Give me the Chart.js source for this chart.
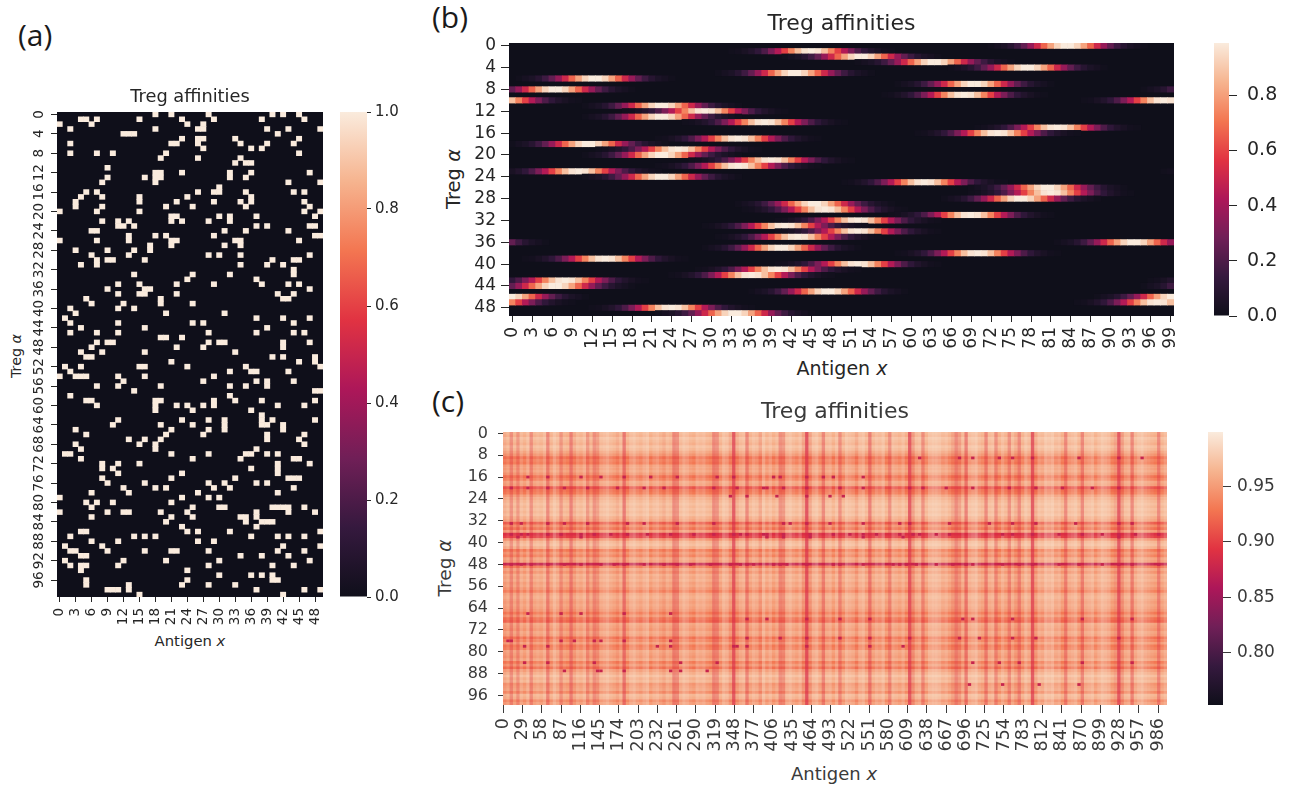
<!DOCTYPE html>
<html lang="en">
<head>
<meta charset="UTF-8">
<title>Treg affinities</title>
<script src="https://cdn.jsdelivr.net/npm/chart.js"></script>
<style>
  html, body { margin: 0; background: #fff; }
  #fig { position: relative; width: 1295px; height: 787px; overflow: hidden; }
  canvas { position: absolute; filter: blur(0.4px); }
  .lab { position: absolute; font-family: "DejaVu Sans"; color: #262626; white-space: nowrap; transform: translate(-50%, -50%); }
  .rot { transform: translate(-50%, -50%) rotate(-90deg); }
  .letter { position: absolute; font-family: "Open Sans"; font-size: 30px; color: #1a1a1a; }
</style>
</head>
<body>
<div id="fig">
  <div class="letter" style="left:18px;top:14px">(a)</div>
  <div class="letter" style="left:432px;top:-4px">(b)</div>
  <div class="letter" style="left:432px;top:380px">(c)</div>
  <div class="lab" style="left:190px;top:640px;font-size:14.8px">Antigen <i>x</i></div>
  <div class="lab rot" style="left:16px;top:356px;font-size:14.3px">Treg <i>α</i></div>
  <div class="lab" style="left:842px;top:368px;font-size:19px">Antigen <i>x</i></div>
  <div class="lab rot" style="left:453px;top:179px;font-size:19.5px">Treg <i>α</i></div>
  <div class="lab" style="left:834px;top:773px;font-size:18px;color:#3a3a3a">Antigen <i>x</i></div>
  <div class="lab rot" style="left:444px;top:568px;font-size:18.5px;color:#3a3a3a">Treg <i>α</i></div>
</div>

<script>
// rocket colormap stops, with the dark end as it looks in the picture
const rocketStops = ['#0f0f1a', '#35193e', '#701f57', '#ad1759', '#e13342', '#f37651', '#f6b48f', '#faebdd'];
const title = 'Treg affinities';

// panel (a): columns of the bright cells, one list per row
const aBrightCols = [
  [18,21,28,40,42,45],[4,5,7,15,23,29,38,46],[0,6,24,27],[2,18,26,27,39,43,49],[12,13,14,41],
  [23,26,27,33,45],[2,21,22,26,34,39,44],[27,36,38],[2,7,10,20,45],[19,26,34],
  [33,35,36],[9],[18,19,23,32,36,47],[9,16,18,19,32,35],[8,18,43,49],
  [30],[5,7,26,29,30,35,44,46],[4,8,15,24,36],[3,15,22,29,34,36,46],[3,8,20,25,35,47],
  [0,7,15,46,49],[21,22,30,32,37,48],[8,11,13,21,23,28,32],[11,12,14,37,39,47,48],[6,7,31,35,43],
  [13,18,20,29,48,49],[0,7,13,21,22,33,34,45],[17,21,31,34],[3,9,14,17],[6,13,28,30,34,47],
  [7,9,10,16,40,44,45],[4,7,34,39,42],[44],[14,25,32,44],[24,37],
  [11,15,22,29,38,43,45],[9,16,17,47],[11,15,16,22,41,44],[5,19,42,43],[6,12,19,25],
  [2,11,14],[3,20,31],[1,37,42,47],[2,11,25,27,44],[4,16,39],
  [2,7,11,28,37,44,46],[19,20,23],[7,9,10,28,30,31,42,47],[6,22,27,42],[4,8,16,33],
  [5,6,40,42,48],[21,45,48],[1,4,15,16,24,35,49],[2,32,36,37,43],[0,3,4,5,11,16,29],
  [12,27,37,39,44],[7,11,19,32,35,39],[14,48,49],[2,32],[5,6,18,19,29,33,38,48],
  [7,18,22,24,27,29,41,46],[18,25,36],[38],[11,23,28,31,38,40,48],[10,19,25,31,38,39,42],
  [3,21,28,31,42],[5,20,27,39,46],[13,16,19,39,45],[3,15,18,46],[4,18,37],
  [1,2,21,28,35,36,39,41],[4,25,34,44,45],[8,11,15,41,47],[8,10,36,41],[11,23,41],
  [8,21,33,43,44,45],[9,16,28,31,37,39],[12,18,20,29,32,44],[6,13,26,41],[0,23,28,30],
  [5,7,10,21],[6,25,30,31,40,41,42,43,46],[0,9,12,13,19,24,37,43,48],[6,21,25,34,35,37],[20,35,38,39,40],
  [23,37],[4,5,24,26,32,49],[2,14,16,18,36,41,43,46],[6,11,26,29],[1,8,42,49],
  [2,3,9,16,21,22,28,41,46],[4,5,34,38,43],[1,12,20,30,47],[2,4,5,11,28,40,44],[4,24],
  [30,36,38,40],[5,24,40,41],[5,13,23,28,33],[9,10,11,13,37,46,49],[15,42]
];
const aXTicks = [0,3,6,9,12,15,18,21,24,27,30,33,36,39,42,45,48];
const aYTicks = [0,4,8,12,16,20,24,28,32,36,40,44,48,52,56,60,64,68,72,76,80,84,88,92,96];
const aBarTicks = [0,0.2,0.4,0.6,0.8,1];

// panel (b): first column of each row's streak, then its values in hundredths
const bStarts = [72,33,41,52,66,31,1,58,95,56,86,11,17,11,26,70,61,22,0,13,11,27,22,98,11,50,69,69,65,34,35,57,40,29,40,31,82,29,58,2,40,28,24,96,95,36,88,85,12,22];
const bValues = [
  [1,3,5,9,16,25,37,51,67,81,93,99,99,93,81,67,51,37,25,16,9,5,3,1],
  [1,2,4,7,12,20,31,44,59,74,88,97,100,97,88,74,59,44,31,20,12,7,4,2,1],
  [1,3,5,9,16,25,37,51,67,81,93,99,99,93,81,67,51,37,25,16,9,5,3,1],
  [1,3,5,9,16,25,37,51,67,81,93,99,99,93,81,67,51,37,25,16,9,5,3,1],
  [1,3,5,9,16,25,37,51,67,81,93,99,99,93,81,67,51,37,25,16,9,5,3,1],
  [1,3,5,9,16,25,37,51,67,81,93,99,99,93,81,67,51,37,25,16,9,5,3,1],
  [1,3,5,9,16,25,37,51,67,81,93,99,99,93,81,67,51,37,25,16,9,5,3,1],
  [1,3,5,9,16,25,37,51,67,81,93,99,99,93,81,67,51,37,25,16,9,5,3,1],
  [1,3,5,9,16,25,37,51,67,81,93,99,99,93,81,67,51,37,25,16,9,5,3,1],
  [1,2,4,7,12,20,31,44,59,74,88,97,100,97,88,74,59,44,31,20,12,7,4,2,1],
  [1,2,4,7,12,20,31,44,59,74,88,97,100,97,88,74,59,44,31,20,12,7,4,2,1],
  [1,3,5,9,16,25,37,51,67,81,93,99,99,93,81,67,51,37,25,16,9,5,3,1],
  [1,2,4,7,12,20,31,44,59,74,88,97,100,97,88,74,59,44,31,20,12,7,4,2,1],
  [1,3,5,9,16,25,37,51,67,81,93,99,99,93,81,67,51,37,25,16,9,5,3,1],
  [1,2,4,7,12,20,31,44,59,74,88,97,100,97,88,74,59,44,31,20,12,7,4,2,1],
  [1,2,4,7,12,20,31,44,59,74,88,97,100,97,88,74,59,44,31,20,12,7,4,2,1],
  [1,2,4,7,12,20,31,44,59,74,88,97,100,97,88,74,59,44,31,20,12,7,4,2,1],
  [1,2,4,7,12,20,31,44,59,74,88,97,100,97,88,74,59,44,31,20,12,7,4,2,1],
  [1,3,5,9,16,25,37,51,67,81,93,99,99,93,81,67,51,37,25,16,9,5,3,1],
  [1,2,4,7,12,20,31,44,59,74,88,97,100,97,88,74,59,44,31,20,12,7,4,2,1],
  [1,3,5,9,16,25,37,51,67,81,93,99,99,93,81,67,51,37,25,16,9,5,3,1],
  [1,2,4,7,12,20,31,44,59,74,88,97,100,97,88,74,59,44,31,20,12,7,4,2,1],
  [1,2,4,7,12,20,31,44,59,74,88,97,100,97,88,74,59,44,31,20,12,7,4,2,1],
  [1,2,4,7,12,20,31,44,59,74,88,97,100,97,88,74,59,44,31,20,12,7,4,2,1],
  [1,3,5,9,16,25,37,51,67,81,93,99,99,93,81,67,51,37,25,16,9,5,3,1],
  [1,2,4,7,12,20,31,44,59,74,88,97,100,97,88,74,59,44,31,20,12,7,4,2,1],
  [1,3,5,9,16,25,37,51,67,81,93,99,99,93,81,67,51,37,25,16,9,5,3,1],
  [1,2,4,7,12,20,31,44,59,74,88,97,100,97,88,74,59,44,31,20,12,7,4,2,1],
  [1,3,5,9,16,25,37,51,67,81,93,99,99,93,81,67,51,37,25,16,9,5,3,1],
  [1,3,5,9,16,25,37,51,67,81,93,99,99,93,81,67,51,37,25,16,9,5,3,1],
  [1,2,4,7,12,20,31,44,59,74,88,97,100,97,88,74,59,44,31,20,12,7,4,2,1],
  [1,2,4,7,12,20,31,44,59,74,88,97,100,97,88,74,59,44,31,20,12,7,4,2,1],
  [1,2,4,7,12,20,31,44,59,74,88,97,100,97,88,74,59,44,31,20,12,7,4,2,1],
  [1,2,4,7,12,20,31,44,59,74,88,97,100,97,88,74,59,44,31,20,12,7,4,2,1],
  [1,2,4,7,12,20,31,44,59,74,88,97,100,97,88,74,59,44,31,20,12,7,4,2,1],
  [1,2,4,7,12,20,31,44,59,74,88,97,100,97,88,74,59,44,31,20,12,7,4,2,1],
  [1,3,5,9,16,25,37,51,67,81,93,99,99,93,81,67,51,37,25,16,9,5,3,1],
  [1,3,5,9,16,25,37,51,67,81,93,99,99,93,81,67,51,37,25,16,9,5,3,1],
  [1,2,4,7,12,20,31,44,59,74,88,97,100,97,88,74,59,44,31,20,12,7,4,2,1],
  [1,2,4,7,12,20,31,44,59,74,88,97,100,97,88,74,59,44,31,20,12,7,4,2,1],
  [1,2,4,7,12,20,31,44,59,74,88,97,100,97,88,74,59,44,31,20,12,7,4,2,1],
  [1,2,4,7,12,20,31,44,59,74,88,97,100,97,88,74,59,44,31,20,12,7,4,2,1],
  [1,2,4,7,12,20,31,44,59,74,88,97,100,97,88,74,59,44,31,20,12,7,4,2,1],
  [1,2,4,7,12,20,31,44,59,74,88,97,100,97,88,74,59,44,31,20,12,7,4,2,1],
  [1,3,5,9,16,25,37,51,67,81,93,99,99,93,81,67,51,37,25,16,9,5,3,1],
  [1,3,5,9,16,25,37,51,67,81,93,99,99,93,81,67,51,37,25,16,9,5,3,1],
  [1,3,5,9,16,25,37,51,67,81,93,99,99,93,81,67,51,37,25,16,9,5,3,1],
  [1,2,4,7,12,20,31,44,59,74,88,97,100,97,88,74,59,44,31,20,12,7,4,2,1],
  [1,2,4,7,12,20,31,44,59,74,88,97,100,97,88,74,59,44,31,20,12,7,4,2,1],
  [1,3,5,9,16,25,37,51,67,81,93,99,99,93,81,67,51,37,25,16,9,5,3,1]
];
const bXTicks = [0,3,6,9,12,15,18,21,24,27,30,33,36,39,42,45,48,51,54,57,60,63,66,69,72,75,78,81,84,87,90,93,96,99];
const bYTicks = [0,4,8,12,16,20,24,28,32,36,40,44,48];
const bBarTicks = [0,0.2,0.4,0.6,0.8];

// panel (c): too fine to read cell by cell, so row levels and column levels (5 columns each) estimated by eye
const cRowLevels = [
  .965,.96,.97,.965,.96,.97,.965,.955,.945,.925,
  .935,.93,.95,.95,.955,.945,.925,.935,.955,.95,
  .91,.925,.93,.95,.96,.965,.97,.965,.97,.965,
  .97,.96,.955,.915,.94,.925,.95,.89,.9,.945,
  .965,.97,.96,.93,.945,.935,.955,.95,.875,.93,
  .955,.945,.96,.955,.96,.95,.955,.945,.935,.955,
  .96,.955,.95,.955,.95,.945,.93,.945,.925,.92,
  .955,.95,.945,.955,.95,.925,.935,.95,.93,.935,
  .955,.95,.945,.955,.93,.945,.925,.95,.96,.97,
  .96,.965,.945,.95,.955,.94,.965,.96,.94,.95
];
const cColLevels = [
  .95,.96,.93,.96,.935,.965,.955,.97,.93,.96,
  .965,.96,.97,.925,.96,.975,.965,.935,.96,.955,
  .92,.95,.965,.96,.97,.935,.96,.93,.94,.965,
  .97,.975,.965,.96,.95,.965,.915,.955,.97,.975,
  .965,.96,.97,.975,.955,.965,.97,.96,.95,.965,
  .96,.925,.93,.965,.975,.97,.96,.955,.97,.965,
  .97,.96,.955,.925,.93,.96,.975,.97,.95,.895,
  .95,.965,.97,.925,.96,.97,.965,.945,.975,.96,
  .97,.955,.965,.93,.935,.97,.975,.965,.96,.97,
  .945,.89,.945,.97,.975,.96,.925,.965,.97,.955,
  .97,.93,.96,.975,.97,.965,.95,.97,.975,.96,
  .92,.96,.97,.965,.975,.955,.93,.97,.965,.96,
  .97,.955,.895,.94,.965,.97,.93,.96,.975,.98,
  .98,.975,.965,.97,.96,.945,.925,.94,.965,.92,
  .97,.975,.98,.965,.96,.925,.965,.97,.93,.955,
  .97,.96,.93,.965,.95,.925,.96,.975,.965,.895,
  .95,.97,.965,.98,.975,.98,.965,.97,.955,.925,
  .965,.97,.975,.96,.925,.965,.97,.975,.96,.97,
  .98,.975,.97,.955,.945,.895,.94,.965,.97,.925,
  .965,.975,.98,.97,.965,.96,.955,.925,.96,.97
];
// darkest specks that could be picked out in the picture: rows, and the 5-column blocks on each
const cSpotRows = [9,16,20,23,33,37,38,48,66,68,75,76,78,84,87,92];
const cSpotBlocks = [
  [125,137,141,149,153,159,173,185,192],
  [7,13,23,29,36,44,52,64,69,81,83,91,96,99,108],
  [2,7,13,18,25,34,42,48,63,70,78,79,84,91,101,108,122,126,133,141,152,160,168,177,185],
  [68,73,82,91,98,102],
  [2,5,13,18,25,37,42,52,63,84,86,91,98,108,119,122,134,146,153,160,172,185,189],
  [2,5,7,13,17,23,27,32,37,43,50,57,63,69,71,73,78,79,84,92,99,104,108,112,119,123,125,130,134,150,153,159,167,174,180,185,190,197],
  [4,23,79,84,92,108,120,185],
  [2,5,8,13,18,23,29,33,36,42,48,52,56,62,68,71,73,75,81,83,85,91,99,101,108,117,119,121,124,130,135,139,141,150,155,159,167,173,180,185,189,197],
  [7,17,23,36,50],
  [73,79,91,101,110,138,141,153,174,189],
  [73,83,91,101,110,122,137,143,153,160,185],
  [1,2,17,21,27,29,36,50],
  [6,13,46,50,69,70,73,91,110,120],
  [6,13,27,53,64,141,149,155,174,189],
  [18,28,29,36,50,53,61],
  [140,150,161,173]
];
const cSpotLevel = 0.875;
const cXTicks = [0,29,58,87,116,145,174,203,232,261,290,319,348,377,406,435,464,493,522,551,580,609,638,667,696,725,754,783,812,841,870,899,928,957,986];
const cYTicks = [0,8,16,24,32,40,48,56,64,72,80,88,96];
const cBarTicks = [0.8,0.85,0.9,0.95];
const cMin = 0.753, cMax = 0.999;

function hexRgb(h) {
    return [1, 3, 5].map(i => parseInt(h.slice(i, i + 2), 16));
}

function rocket(t) {
    const p = Math.min(Math.max(t, 0), 1) * (rocketStops.length - 1);
    const i = Math.min(Math.floor(p), rocketStops.length - 2);
    const a = hexRgb(rocketStops[i]), b = hexRgb(rocketStops[i + 1]);
    const c = a.map((v, k) => Math.round(v + (b[k] - v) * (p - i)));
    return `rgb(${c[0]},${c[1]},${c[2]})`;
}

function addCanvas(left, top, width, height) {
    const c = document.createElement('canvas');
    c.width = width;
    c.height = height;
    c.style.left = left + 'px';
    c.style.top = top + 'px';
    document.getElementById('fig').appendChild(c);
    return c.getContext('2d');
}

function noPad(s) {
    s.paddingLeft = s.paddingRight = s.paddingTop = s.paddingBottom = 0;
}

// linear axis with cell-centred ticks and a fixed thickness so the plot lands where it should
function heatAxis(axis, n, tickValues, a) {
    return {
        type: 'linear', axis: axis, min: -0.5, max: n - 0.5, reverse: axis === 'y', offset: false,
        border: { display: false },
        grid: { offset: false, drawOnChartArea: false, tickLength: a.tick, color: a.color, tickColor: a.color },
        ticks: {
            display: a.labels !== false, autoSkip: false, color: a.color, padding: a.gap,
            font: { family: 'DejaVu Sans', size: a.size },
            minRotation: axis === 'x' ? 90 : 0, maxRotation: axis === 'x' ? 90 : 0, callback: v => String(v)
        },
        afterBuildTicks: s => { s.ticks = tickValues.map(v => ({ value: v })); },
        afterFit: s => {
            if (axis === 'x') s.height = a.thick; else s.width = a.thick;
            noPad(s);
        }
    };
}

const fillArea = {
    id: 'fillArea',
    beforeDatasetsDraw(chart) {
        const a = chart.chartArea;
        chart.ctx.fillStyle = rocketStops[0];
        chart.ctx.fillRect(a.left, a.top, a.width, a.height);
    }
};

// seaborn turned the crowded y labels of panel (a) on their side
const sideLabels = {
    id: 'sideLabels',
    afterDraw(chart) {
        const ctx = chart.ctx, s = chart.scales.y;
        ctx.save();
        ctx.font = '13.5px "DejaVu Sans"';
        ctx.fillStyle = '#262626';
        ctx.textAlign = 'center';
        ctx.textBaseline = 'middle';
        aYTicks.forEach(v => {
            ctx.save();
            ctx.translate(chart.chartArea.left - 18, s.getPixelForValue(v));
            ctx.rotate(-Math.PI / 2);
            ctx.fillText(String(v), 0, 0);
            ctx.restore();
        });
        ctx.restore();
    }
};

function titleOpts(size, line, below, color) {
    return {
        display: true, text: title, color: color, fullSize: false,
        font: { family: 'DejaVu Sans', size: size, weight: 'normal', lineHeight: line + 'px' },
        padding: { top: 0, bottom: below }
    };
}

function colorbar(left, top, w, h, lo, hi, ticks, b) {
    new Chart(addCanvas(left, top - 14, w + 70, h + 28), {
        type: 'bar',
        data: {
            datasets: [{
                data: [{ x: 0, y: [lo, hi] }],
                grouped: false, barPercentage: 1, categoryPercentage: 1, inflateAmount: 0,
                backgroundColor(c) {
                    const a = c.chart.chartArea;
                    if (!a) return rocketStops[0];
                    const g = c.chart.ctx.createLinearGradient(0, a.bottom, 0, a.top);
                    rocketStops.forEach((s, i) => g.addColorStop(i / (rocketStops.length - 1), s));
                    return g;
                }
            }]
        },
        options: {
            responsive: false, animation: false,
            layout: { padding: { top: 14, bottom: 14 } },
            plugins: { legend: { display: false }, tooltip: { enabled: false } },
            scales: {
                x: {
                    type: 'linear', display: false, min: -0.5, max: 0.5, offset: false,
                    afterBuildTicks: s => { s.ticks = [{ value: -0.5 }, { value: 0.5 }]; }
                },
                y: {
                    type: 'linear', position: 'right', min: lo, max: hi,
                    border: { display: false },
                    grid: { drawOnChartArea: false, tickLength: b.tick, color: b.color },
                    ticks: { color: b.color, padding: b.gap, font: { family: 'DejaVu Sans', size: b.size }, callback: v => v.toFixed(b.digits) },
                    afterBuildTicks: s => { s.ticks = ticks.map(v => ({ value: v })); },
                    afterFit: s => { s.width = 70; noPad(s); }
                }
            }
        }
    });
}

// (a)
const aCells = aBrightCols.flatMap((cols, r) => cols.map(c => ({ x: c, y: [r - 0.5, r + 0.5] })));
new Chart(addCanvas(0, 88, 333, 559), {
    type: 'bar',
    data: { datasets: [{ data: aCells, backgroundColor: rocketStops[7], grouped: false, barPercentage: 1, categoryPercentage: 1 }] },
    options: {
        responsive: false, animation: false,
        layout: { padding: { right: 10 } },
        plugins: { legend: { display: false }, tooltip: { enabled: false }, title: titleOpts(17.8, 18, 6, '#262626') },
        scales: {
            x: heatAxis('x', 50, aXTicks, { size: 13.5, thick: 50, color: '#262626', tick: 5, gap: 6 }),
            y: heatAxis('y', 100, aYTicks, { size: 13.5, thick: 57, color: '#262626', tick: 6, gap: 3, labels: false })
        }
    },
    plugins: [fillArea, sideLabels]
});
colorbar(340, 112, 27, 485, 0, 1, aBarTicks, { digits: 1, size: 15, color: '#262626', tick: 4, gap: 4 });

// (b)
const bCells = [], bColors = [];
bValues.forEach((vals, r) => {
    vals.forEach((v, i) => {
        bCells.push({ x: (bStarts[r] + i) % 100, y: [r - 0.5, r + 0.5] });
        bColors.push(rocket(v / 99));
    });
});
new Chart(addCanvas(460, 13, 724, 343), {
    type: 'bar',
    data: { datasets: [{ data: bCells, backgroundColor: bColors, grouped: false, barPercentage: 1, categoryPercentage: 1 }] },
    options: {
        responsive: false, animation: false,
        layout: { padding: { right: 10 } },
        plugins: { legend: { display: false }, tooltip: { enabled: false }, title: titleOpts(22, 22, 8, '#262626') },
        scales: {
            x: heatAxis('x', 100, bXTicks, { size: 17, thick: 40, color: '#262626', tick: 6, gap: 5 }),
            y: heatAxis('y', 50, bYTicks, { size: 17, thick: 49, color: '#262626', tick: 8, gap: 5 })
        }
    },
    plugins: [fillArea]
});
colorbar(1214, 43, 15, 273, 0, 0.989, bBarTicks, { digits: 1, size: 19, color: '#262626', tick: 8, gap: 10 });

// (c) row stripes underneath, column stripes over them, specks on top (lower order draws on top)
const cScale = v => (v - cMin) / (cMax - cMin);
const cColStripe = v => v < 0.955
    ? `rgba(215,35,70,${((0.955 - v) / 0.065 * 0.65).toFixed(3)})`
    : `rgba(250,235,221,${((v - 0.955) / 0.025 * 0.4).toFixed(3)})`;
const cSpots = cSpotRows.flatMap((r, k) => cSpotBlocks[k].map(b => ({ x: 5 * b + 2, y: [r - 0.5, r + 0.5] })));
new Chart(addCanvas(455, 401, 722, 364), {
    type: 'bar',
    data: {
        datasets: [
            {
                order: 3, indexAxis: 'y', xAxisID: 'xv', yAxisID: 'y', grouped: false, barPercentage: 1, categoryPercentage: 1,
                data: cRowLevels.map((v, r) => ({ x: [-0.5, 999.5], y: r })),
                backgroundColor: cRowLevels.map(v => rocket(cScale(v)))
            },
            {
                order: 2, xAxisID: 'x', yAxisID: 'yv', grouped: false, barPercentage: 1, categoryPercentage: 1, inflateAmount: 0,
                data: cColLevels.map((v, i) => ({ x: 5 * i + 2, y: [-0.5, 99.5] })),
                backgroundColor: cColLevels.map(cColStripe)
            },
            {
                order: 1, xAxisID: 'x', yAxisID: 'yv', grouped: false, barPercentage: 1, categoryPercentage: 1, inflateAmount: 0,
                data: cSpots,
                backgroundColor: rocket(cScale(cSpotLevel))
            }
        ]
    },
    options: {
        responsive: false, animation: false,
        layout: { padding: { right: 10 } },
        plugins: { legend: { display: false }, tooltip: { enabled: false }, title: titleOpts(22, 22, 9, '#3a3a3a') },
        scales: {
            x: heatAxis('x', 1000, cXTicks, { size: 17.5, thick: 60, color: '#3a3a3a', tick: 8, gap: 5 }),
            y: heatAxis('y', 100, cYTicks, { size: 16, thick: 48, color: '#3a3a3a', tick: 5, gap: 10 }),
            xv: { type: 'linear', axis: 'x', display: false, min: -0.5, max: 999.5, offset: false, grid: { offset: false } },
            yv: { type: 'linear', axis: 'y', display: false, min: -0.5, max: 99.5, reverse: true, offset: false }
        }
    }
});
colorbar(1208, 432, 15, 273, cMin, cMax, cBarTicks, { digits: 2, size: 17, color: '#3a3a3a', tick: 8, gap: 6 });
</script>
</body>
</html>
